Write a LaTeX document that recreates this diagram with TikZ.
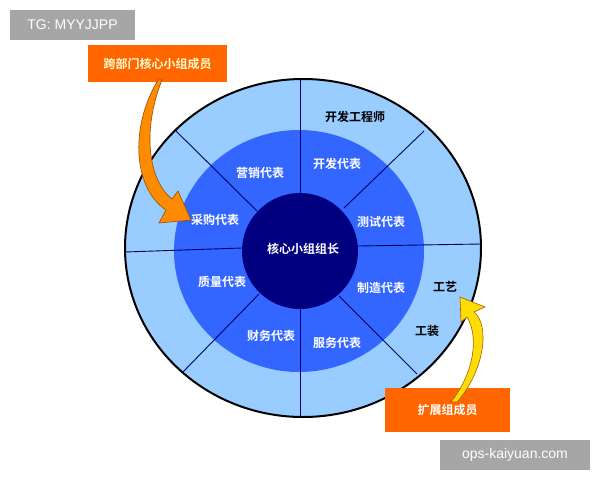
\documentclass[tikz,border=0pt]{standalone}
\usepackage{fontspec}
\newfontfamily\cjk{Noto Sans CJK SC}[BoldFont={* Bold}]
\setsansfont{Liberation Sans}
\begin{document}
\begin{tikzpicture}[x=1pt,y=-1pt,
  inlab/.style={font=\cjk\bfseries\fontsize{12}{12}\selectfont,text=white},
  outlab/.style={font=\cjk\bfseries\fontsize{12}{12}\selectfont,text=black},
  spoke/.style={draw=blue!40!black,line width=0.9pt},
  wm/.style={fill=black!35,text=white,font=\sffamily\fontsize{14}{14}\selectfont,inner sep=0pt}]
\definecolor{lblue}{HTML}{99CCFF}
\definecolor{mblue}{HTML}{3366FF}
\definecolor{dblue}{HTML}{000080}
\definecolor{org}{HTML}{FF6600}
\useasboundingbox (0,0) rectangle (600,480);
\fill[white] (0,0) rectangle (600,480);
% rings
\filldraw[fill=lblue,draw=black,line width=2pt] (303,248) ellipse [x radius=178,y radius=169];
\fill[mblue] (299,251) ellipse [x radius=125,y radius=121];
\fill[dblue] (300,251) circle (58);
% spokes
\coordinate (t1) at (300,79); \coordinate (t2) at (300,193);
\coordinate (b1) at (300,309); \coordinate (b2) at (300,417);
\coordinate (l1) at (125,252); \coordinate (l2) at (242,248);
\coordinate (r1) at (358,246); \coordinate (r2) at (481,244);
\coordinate (ul1) at (176,131); \coordinate (ul2) at (257,211);
\coordinate (ur1) at (424,131); \coordinate (ur2) at (344,208);
\coordinate (dl1) at (182,373); \coordinate (dl2) at (259,294);
\coordinate (dr1) at (417,374); \coordinate (dr2) at (339,296);
\foreach \a/\b in {t1/t2,b1/b2,l1/l2,r1/r2,ul1/ul2,ur1/ur2,dl1/dl2,dr1/dr2}
  \draw[spoke] (\a) -- (\b);
% labels
\node[inlab] (core) at (303,249) {核心小组组长};
\node[inlab] (yx) at (260,173) {营销代表};
\node[inlab] (kf) at (337,164) {开发代表};
\node[inlab] (cg) at (215,220) {采购代表};
\node[inlab] (cs) at (381,222) {测试代表};
\node[inlab] (zl) at (222,282) {质量代表};
\node[inlab] (zz) at (381,288) {制造代表};
\node[inlab] (cw) at (271,336) {财务代表};
\node[inlab] (fw) at (337,343) {服务代表};
\node[outlab] (kfgc) at (355,117) {开发工程师};
\node[outlab] (gy) at (445,287) {工艺};
\node[outlab] (gz) at (427,331) {工装};
% boxes
\node[fill=org,minimum width=139,minimum height=37,inner sep=0pt,
  font=\cjk\bfseries\fontsize{12}{12}\selectfont,text=yellow!20] (kbm) at (157.5,63.5) {跨部门核心小组成员};
\node[fill=org,minimum width=125,minimum height=44,inner sep=0pt,
  font=\cjk\bfseries\fontsize{12}{12}\selectfont,text=white] (kz) at (447.5,410) {扩展组成员};
% arrows
\filldraw[fill=orange!90!yellow,draw=orange!60!black,line width=0.6pt]
  (158,80) .. controls (128,130) and (135,190) .. (166,210)
  -- (159,223) -- (191,220) -- (178,191) -- (172,199)
  .. controls (148,180) and (142,130) .. (162,80) -- cycle;
\filldraw[fill=yellow!80!orange,draw=orange!70!black,line width=0.6pt]
  (457,402) .. controls (485,370) and (490,325) .. (474,312)
  -- (485,307) -- (460,297) -- (461,322) -- (467,317)
  .. controls (478,335) and (476,370) .. (451,402) -- cycle;
% watermarks
\node[wm,minimum width=125,minimum height=30] (tg) at (72.5,25) {TG: MYYJJPP};
\node[wm,minimum width=150,minimum height=30] (ops) at (515,455) {ops-kaiyuan.com};
\end{tikzpicture}
\end{document}
